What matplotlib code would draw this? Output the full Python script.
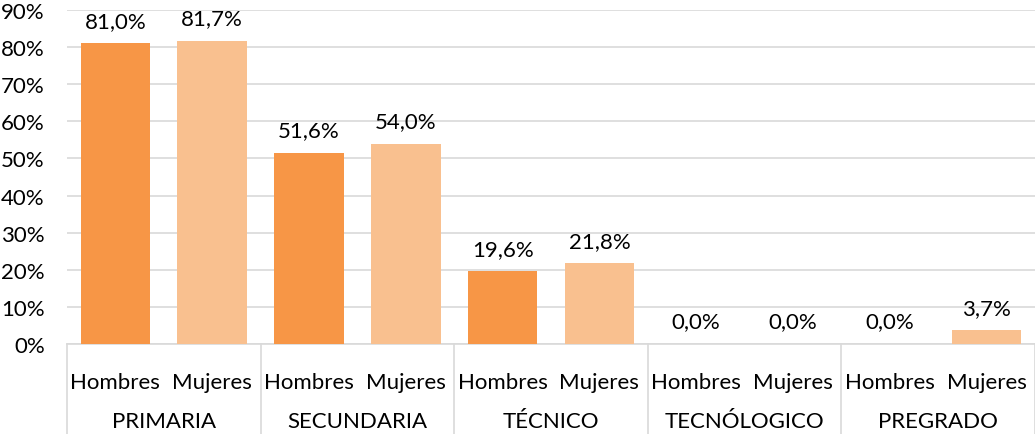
import numpy as np
import matplotlib.pyplot as plt
from matplotlib.transforms import blended_transform_factory

plt.rcParams['font.family'] = ['Lato', 'DejaVu Sans']

# --- datos ---
niveles = ['PRIMARIA', 'SECUNDARIA', 'TÉCNICO', 'TECNÓLOGICO', 'PREGRADO']
sexos = ['Hombres', 'Mujeres']
hombres = [81.0, 51.6, 19.6, 0.0, 0.0]
mujeres = [81.7, 54.0, 21.8, 0.0, 3.7]
yticks = [0, 10, 20, 30, 40, 50, 60, 70, 80, 90]

col_h = '#F79646'
col_m = '#F9C08F'
grid_col = '#D9D9D9'
fs = 16

fig = plt.figure(figsize=(10.35, 4.35), dpi=100)
ax = fig.add_axes([67 / 1035, 90 / 435, 968 / 1035, 334 / 435])

n = len(niveles)
x_h = np.arange(n) * 2
x_m = x_h + 1
w = 0.72
ax.bar(x_h, hombres, width=w, color=col_h, zorder=3)
ax.bar(x_m, mujeres, width=w, color=col_m, zorder=3)

for xs, vals in ((x_h, hombres), (x_m, mujeres)):
    for xi, v in zip(xs, vals):
        ax.annotate(f'{v:.1f}%'.replace('.', ','), (xi, v), xytext=(0, 9),
                    textcoords='offset points', ha='center', va='bottom',
                    fontsize=fs, color='#000000')

ax.set_xlim(-0.5, 2 * n - 0.5)
ax.set_ylim(0, 90)
ax.set_yticks(yticks)
ax.set_yticklabels([f'{t}%' for t in yticks], fontsize=fs)
ax.tick_params(axis='y', length=0, pad=16)
ax.set_xticks([])
ax.yaxis.grid(True, color=grid_col, linewidth=1.2, zorder=0)
for s in ['top', 'right', 'left']:
    ax.spines[s].set_visible(False)
ax.spines['bottom'].set_color(grid_col)
ax.spines['bottom'].set_linewidth(1.2)

# eje de categorías de dos niveles
tr = blended_transform_factory(ax.transData, ax.transAxes)
for i in range(n + 1):
    ax.plot([2 * i - 0.5, 2 * i - 0.5], [0, -90 / 334], transform=tr,
            color=grid_col, linewidth=1.2, clip_on=False)
for i in range(n):
    for j, s in enumerate(sexos):
        ax.text(2 * i + j, -38 / 334, s, transform=tr, ha='center',
                va='center', fontsize=fs)
    ax.text(2 * i + 0.5, -77 / 334, niveles[i], transform=tr, ha='center',
            va='center', fontsize=fs)

fig.savefig('out.png', dpi=100)
